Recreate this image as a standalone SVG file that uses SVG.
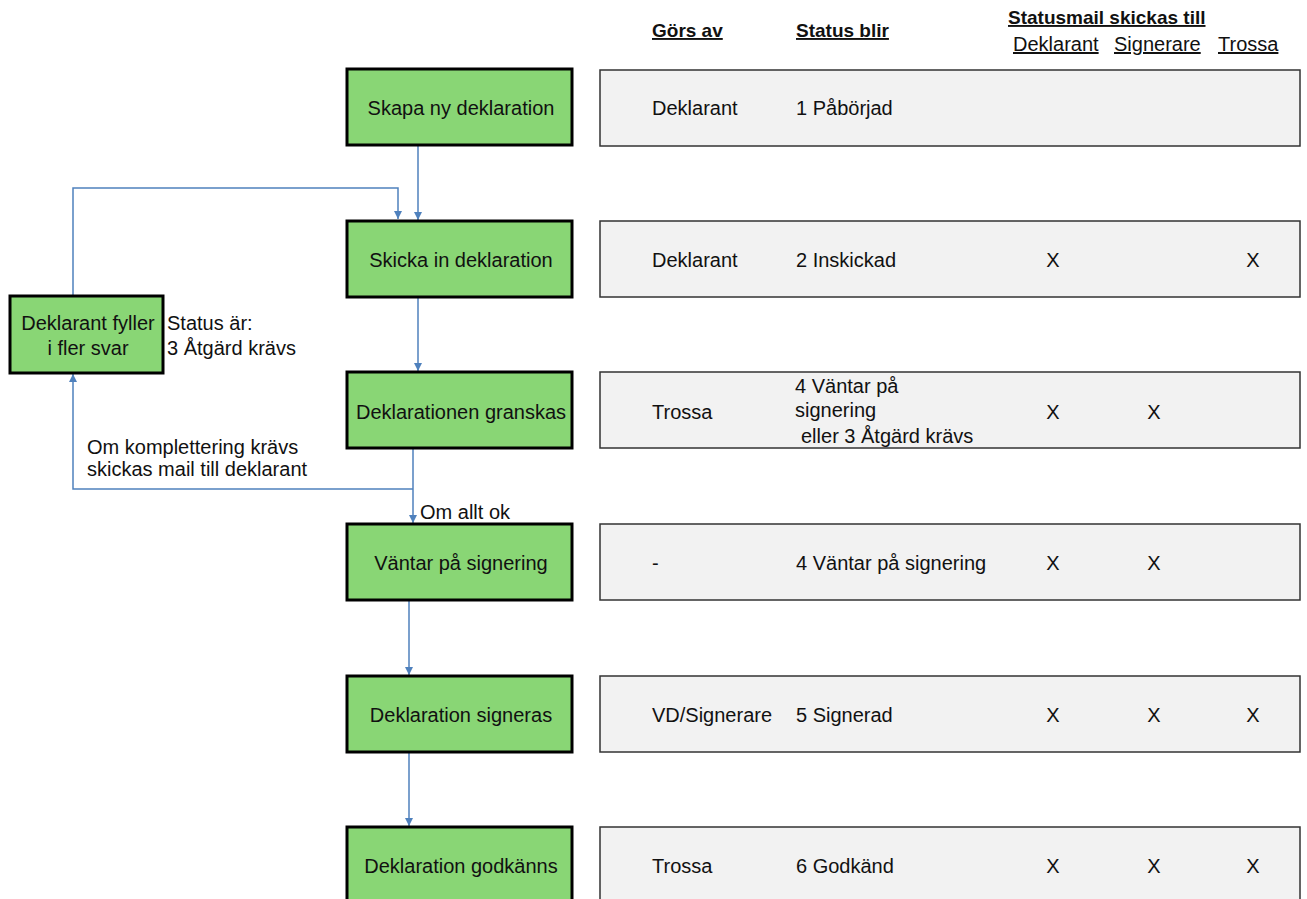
<svg xmlns="http://www.w3.org/2000/svg" width="1307" height="899" viewBox="0 0 1307 899">
<style>
text{font-family:"Liberation Sans",Arial,sans-serif;font-size:20px;fill:#111}
.g{fill:#89d675;stroke:#000;stroke-width:3}
.r{fill:#f2f2f2;stroke:#333;stroke-width:1.5}
.c{text-anchor:middle}
.h{font-weight:bold;text-decoration:underline;font-size:19px}
.u{text-decoration:underline}
.ln{fill:none;stroke:#4f81bd;stroke-width:1.5}
</style>
<defs>
<marker id="a" viewBox="0 0 10 10" refX="10" refY="5" markerWidth="8" markerHeight="8" markerUnits="userSpaceOnUse" orient="auto"><path d="M0,0L10,5L0,10z" fill="#4f81bd"/></marker>
</defs>
<g id="headers">
<text class="h" x="652" y="37">Görs av</text>
<text class="h" x="796" y="37">Status blir</text>
<text class="h" x="1008" y="24">Statusmail skickas till</text>
<text class="u" x="1013" y="51">Deklarant</text>
<text class="u" x="1114" y="51">Signerare</text>
<text class="u" x="1218" y="51">Trossa</text>
</g>
<g id="connectors">
<path class="ln" d="M418,146V220" marker-end="url(#a)"/>
<path class="ln" d="M73,296V188H398V219" marker-end="url(#a)"/>
<path class="ln" d="M418,298V371" marker-end="url(#a)"/>
<path class="ln" d="M413,449V523" marker-end="url(#a)"/>
<path class="ln" d="M413,489H73V374" marker-end="url(#a)"/>
<path class="ln" d="M409,601V675" marker-end="url(#a)"/>
<path class="ln" d="M409,753V826" marker-end="url(#a)"/>
</g>
<g id="n1"><rect class="g" x="347" y="69" width="225" height="76"/><text class="c" x="461" y="115">Skapa ny deklaration</text></g>
<g id="n2"><rect class="g" x="347" y="221" width="225" height="76"/><text class="c" x="461" y="267">Skicka in deklaration</text></g>
<g id="n3"><rect class="g" x="347" y="372" width="225" height="76"/><text class="c" x="461" y="419">Deklarationen granskas</text></g>
<g id="n4"><rect class="g" x="347" y="524" width="225" height="76"/><text class="c" x="461" y="570">Väntar på signering</text></g>
<g id="n5"><rect class="g" x="347" y="676" width="225" height="76"/><text class="c" x="461" y="722">Deklaration signeras</text></g>
<g id="n6"><rect class="g" x="347" y="827" width="225" height="80"/><text class="c" x="461" y="873">Deklaration godkänns</text></g>
<g id="nL"><rect class="g" x="10" y="296" width="153" height="77"/><text class="c" x="88" y="330">Deklarant fyller</text><text class="c" x="88" y="355">i fler svar</text></g>
<g id="labels">
<text x="167" y="330">Status är:</text>
<text x="167" y="355">3 Åtgärd krävs</text>
<text x="87" y="454">Om komplettering krävs</text>
<text x="87" y="476">skickas mail till deklarant</text>
<text x="420" y="519">Om allt ok</text>
</g>
<g id="r1"><rect class="r" x="600" y="70" width="700" height="76"/><text x="652" y="115">Deklarant</text><text x="796" y="115">1 Påbörjad</text></g>
<g id="r2"><rect class="r" x="600" y="221" width="700" height="76"/><text x="652" y="267">Deklarant</text><text x="796" y="267">2 Inskickad</text><text class="c" x="1053" y="267">X</text><text class="c" x="1253" y="267">X</text></g>
<g id="r3"><rect class="r" x="600" y="372" width="700" height="76"/><text x="652" y="419">Trossa</text><text x="795" y="393">4 Väntar på</text><text x="795" y="417">signering</text><text x="801" y="443">eller 3 Åtgärd krävs</text><text class="c" x="1053" y="419">X</text><text class="c" x="1154" y="419">X</text></g>
<g id="r4"><rect class="r" x="600" y="524" width="700" height="76"/><text x="652" y="570">-</text><text x="796" y="570">4 Väntar på signering</text><text class="c" x="1053" y="570">X</text><text class="c" x="1154" y="570">X</text></g>
<g id="r5"><rect class="r" x="600" y="676" width="700" height="76"/><text x="652" y="722">VD/Signerare</text><text x="796" y="722">5 Signerad</text><text class="c" x="1053" y="722">X</text><text class="c" x="1154" y="722">X</text><text class="c" x="1253" y="722">X</text></g>
<g id="r6"><rect class="r" x="600" y="827" width="700" height="80"/><text x="652" y="873">Trossa</text><text x="796" y="873">6 Godkänd</text><text class="c" x="1053" y="873">X</text><text class="c" x="1154" y="873">X</text><text class="c" x="1253" y="873">X</text></g>
</svg>
